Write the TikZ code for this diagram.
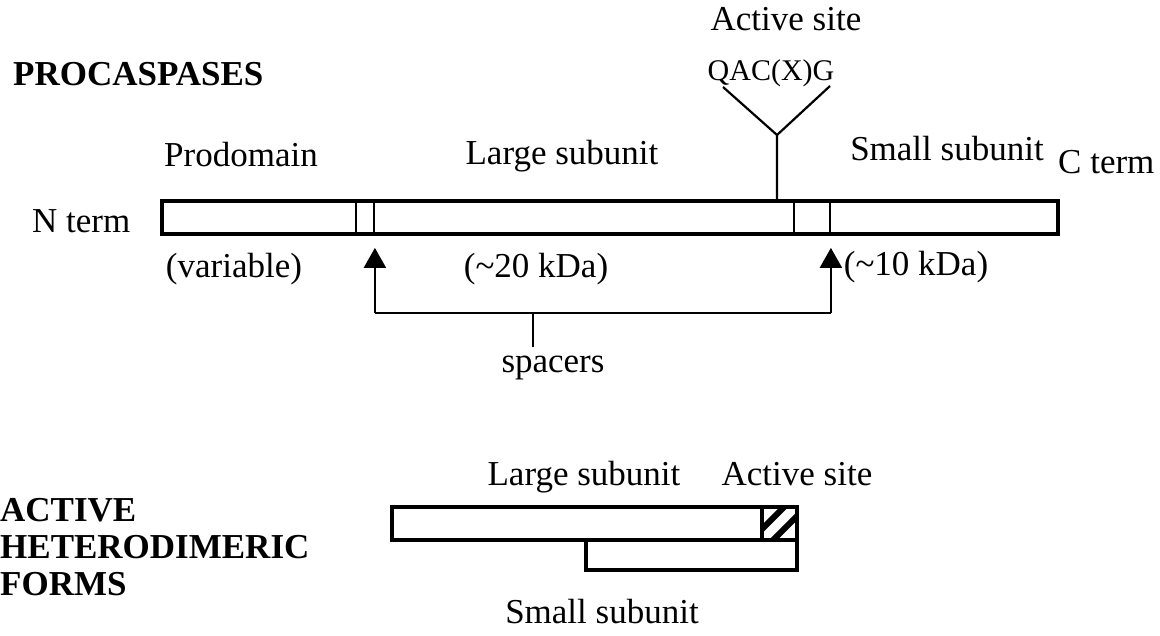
\documentclass[tikz,border=0pt]{standalone}
\usepackage{fontspec}
\setmainfont{Liberation Serif}
\usetikzlibrary{arrows.meta,positioning}

\begin{document}
\begin{tikzpicture}[x=1pt, y=-1pt,
  every node/.style={inner sep=0pt, font=\fontsize{35}{37}\selectfont},
  lbl/.style={anchor=base},
  bar/.style={draw, line width=3.5pt, minimum height=33pt},
  spacer/.style={draw, line width=1.8pt, minimum height=33pt},
  link/.style={line width=2.2pt},
  tip/.style={-{Triangle[width=22pt,length=20pt]}, line width=2.2pt}]
\useasboundingbox (0,0) rectangle (1160,635);

% procaspase
\node[lbl, anchor=base west, font=\fontsize{35}{37}\selectfont\bfseries] (title) at (13,85) {PROCASPASES};
\node[bar, minimum width=896pt] (chain) at (610,217.5) {};
\node[spacer, minimum width=18pt] (sp1) at (365,217.5) {};
\node[spacer, minimum width=36pt] (sp2) at (812,217.5) {};
\node[lbl, anchor=base west] (nterm) at (32,232) {N term};
\node[lbl, anchor=base west] (cterm) at (1058,173) {C term};
\node[lbl] (prodom) at (241,166) {Prodomain};
\node[lbl] (large) at (562,164) {Large subunit};
\node[lbl] (small) at (947,160) {Small subunit};
\node[lbl] (var) at (234,277) {(variable)};
\node[lbl] (kda20) at (536,277) {(\textasciitilde20 kDa)};
\node[lbl] (kda10) at (916,275) {(\textasciitilde10 kDa)};

\node[lbl] (site) at (786,30) {Active site};
\node[lbl, font=\fontsize{30}{33}\selectfont] (motif) at (771,80) {QAC(X)G};
\coordinate (fork) at (777,135);
\coordinate (armL) at (723,87);
\coordinate (armR) at (830,86);
\draw[link] (chain.north -| fork) -- (fork) -- (armL);
\draw[link] (fork) -- (armR);

\coordinate (join) at (533,313);
\coordinate (stem) at (533,347);
\draw[link] (sp1.south east |- join) -- (sp2.south east |- join);
\draw[tip, shorten >=13pt] (sp1.south east |- join) -- (sp1.south east);
\draw[tip, shorten >=13pt] (sp2.south east |- join) -- (sp2.south east);
\draw[link] (join) -- (stem);
\node[lbl] (spacers) at (553,372) {spacers};

% active heterodimer
\node[lbl, anchor=north west, align=left, font=\fontsize{35}{37}\selectfont\bfseries] (forms) at (0,498) {ACTIVE\\HETERODIMERIC\\FORMS};
\node[bar, minimum width=405pt] (lsub) at (594.5,523.5) {};
\node[bar, minimum width=211pt, minimum height=30pt] (ssub) at (691.5,555) {};
\node[bar, minimum width=35pt, path picture={
  \foreach \c in {-11,11}
    \draw[line width=6pt] ([shift={(\c-20,20)}]path picture bounding box.south west) -- ++(60,-60);
}] (hatch) at (779.5,523.5) {};
\node[lbl] (llbl) at (584,485) {Large subunit};
\node[lbl] (alb) at (797,485) {Active site};
\node[lbl] (slbl) at (602,623) {Small subunit};

\end{tikzpicture}
\end{document}
